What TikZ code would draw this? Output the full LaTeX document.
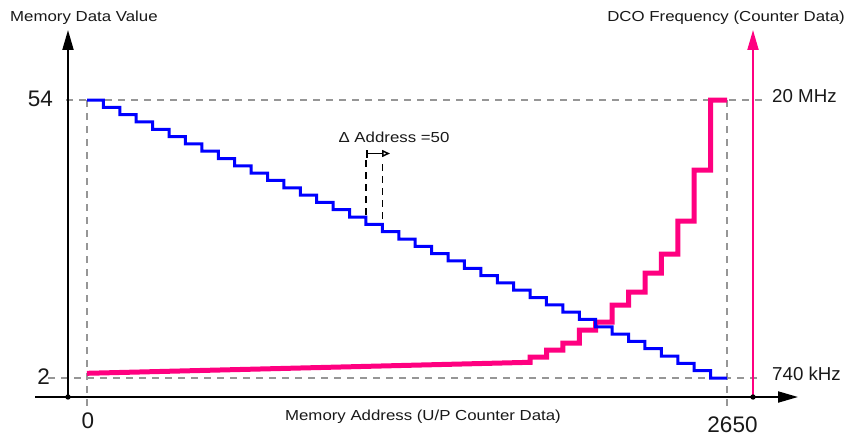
\documentclass[tikz,border=0pt]{standalone}
\usepackage{fontspec}
\setmainfont{Liberation Sans}
\usetikzlibrary{arrows.meta}
\definecolor{pinkc}{RGB}{255,0,128}
\definecolor{bluec}{RGB}{0,0,255}
\definecolor{guidec}{RGB}{150,150,150}
\definecolor{textc}{RGB}{25,25,25}
\begin{document}
\begin{tikzpicture}[x=1pt,y=-1pt,
  lbl/.style={inner sep=0pt, text=textc, font=\fontsize{14.5}{17}\selectfont, xscale=1.16},
  val/.style={inner sep=0pt, text=textc, font=\fontsize{18.7}{22}\selectfont},
  num/.style={inner sep=0pt, text=textc, font=\fontsize{22.5}{26}\selectfont},
  guide/.style={draw=guidec, line width=2.4pt, dash pattern=on 7pt off 6pt},
  deltaguide/.style={draw=black, line width=1.6pt, dash pattern=on 7pt off 5pt},
  axisline/.style={line width=2pt, -{Triangle[length=20pt,width=11pt]}},
  stairblue/.style={draw=bluec, line width=3pt},
  stairpink/.style={draw=pinkc, line width=5pt, line join=miter}
]
\useasboundingbox (0,0) rectangle (848,436);
\fill[white] (0,0) rectangle (848,436);

% guide lines
\draw[guide] (66,100) -- (762,100);
\draw[guide] (48,378) -- (762,378);
\draw[guide] (87,100) -- (87,406);
\draw[guide] (727,100) -- (727,406);

% axes
\coordinate (O) at (68,397);
\coordinate (Ytop) at (68,30);
\coordinate (Xstart) at (35,397);
\coordinate (Xend) at (798,397);
\coordinate (R) at (753,397);
\coordinate (Rtop) at (753,30);
\draw[axisline, black] (O) -- (Ytop);
\draw[axisline, black] (Xstart) -- (Xend);
\draw[axisline, draw=pinkc, fill=pinkc] (R) -- (Rtop);
\fill[black] (O) circle (2.7pt);
\fill[black] (R) circle (2.7pt);

% pink staircase
\draw[stairpink] (87,373.3) -- (530.1,362.3) -- (530.1,357) -- (546.5,357) -- (546.5,350)
  -- (562.9,350) -- (562.9,343) -- (579.3,343) -- (579.3,330) -- (595.7,330) -- (595.7,322)
  -- (612.1,322) -- (612.1,305) -- (628.5,305) -- (628.5,292) -- (645,292) -- (645,273)
  -- (661.4,273) -- (661.4,254) -- (677.8,254) -- (677.8,221) -- (694.2,221) -- (694.2,170)
  -- (710.6,170) -- (710.6,100) -- (727,100);

% blue staircase
\draw[stairblue] (87,100) \foreach \k in {1,...,38}{ -- ++(16.41026,0) -- ++(0,7.31579) } -- (727,378);

% delta address marker
\draw[deltaguide] (366,160) -- (366,217);
\draw[deltaguide] (382.4,164) -- (382.4,224);
\coordinate (DA) at (366,153.5);
\coordinate (DB) at (390,153.5);
\draw[line width=1.5pt, {Bar[width=8pt]}-{Triangle[open,length=8pt,width=7pt]}] (DA) -- (DB);
\node[lbl, anchor=base] (delta) at (394,142) {Δ Address =50};

% texts
\node[lbl, anchor=base west] (ylab) at (10,21.7) {Memory Data Value};
\node[lbl, anchor=base east] (rlab) at (845,21.7) {DCO Frequency (Counter Data)};
\node[lbl, anchor=base] (xlab) at (423,420.7) {Memory Address (U/P Counter Data)};
\node[val, anchor=base west] (fmax) at (772,102) {20 MHz};
\node[val, anchor=base west] (fmin) at (772,380) {740 kHz};
\node[num, anchor=base east] (y54) at (53,106) {54};
\node[num, anchor=base east] (y2) at (50,384) {2};
\node[num, anchor=base] (x0) at (88,428) {0};
\node[num, anchor=base] (x2650) at (732.5,432) {2650};
\end{tikzpicture}
\end{document}
